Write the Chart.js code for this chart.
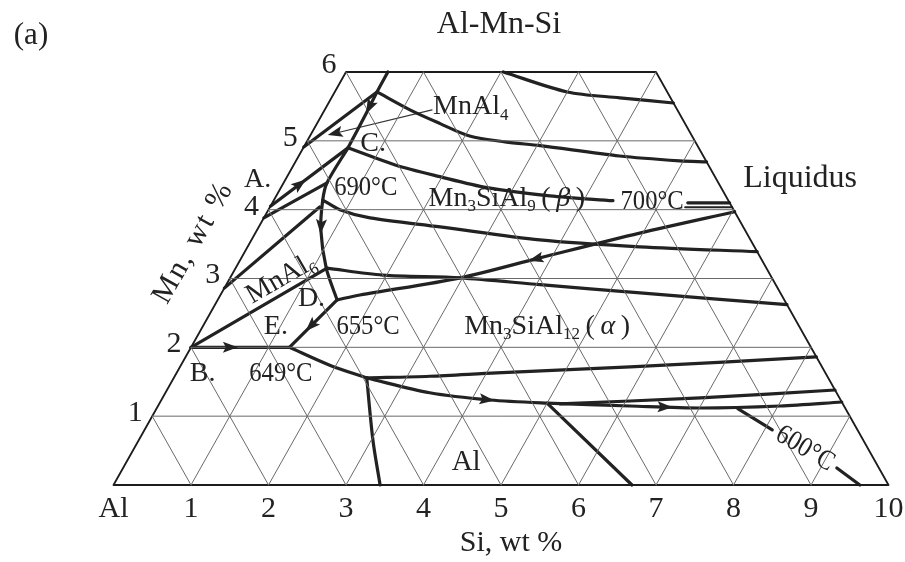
<!DOCTYPE html>
<html>
<head>
<meta charset="utf-8">
<script src="https://cdn.jsdelivr.net/npm/chart.js@4.4.1/dist/chart.umd.min.js"></script>
<style>
  html, body { margin: 0; padding: 0; background: #fff; }
  canvas { display: block; }
</style>
</head>
<body>
<canvas id="c" width="905" height="562"></canvas>
<script>
// Al corner of the Al-Mn-Si system. Every point is [Si wt%, Mn wt%]; Al is the balance.
const siTicks = [1, 2, 3, 4, 5, 6, 7, 8, 9, 10];
const mnTicks = [1, 2, 3, 4, 5, 6];
const gridMn = [1, 2, 3, 4, 5];            // lines of constant Mn
const gridSi = [1, 2, 3, 4, 5, 6, 7, 8, 9]; // lines of constant Si
const gridSum = [1, 2, 3, 4, 5, 6, 7, 8, 9]; // lines of constant Si+Mn (constant Al)
const mnMax = 6, sumMax = 10;

const outline = [[0, 0], [10, 0], [4, 6], [0, 6], [0, 0]];

// liquidus isotherms
const iso800 = [[2.03, 6.0], [3.0, 5.71], [3.72, 5.625], [4.45, 5.55]];
const iso750a = [[0, 4.91], [0.545, 5.71]];
const iso750b = [[0.545, 5.71], [1.10, 5.45], [1.59, 5.25], [2.06, 5.07], [2.56, 4.985], [3.04, 4.93], [4.14, 4.78], [4.95, 4.71], [5.305, 4.695]];
const iso700 = [[0.577, 4.898], [1.31, 4.65], [1.97, 4.48], [2.66, 4.32], [3.53, 4.20], [4.38, 4.13]];
const iso700r = [[5.36, 4.10], [5.90, 4.10]];
const iso700r2 = [[5.36, 4.035], [5.965, 4.035]];
const iso690a = [[0, 3.88], [0.56, 4.39]];
const iso690b = [[0.63, 4.14], [0.92, 4.0], [1.37, 3.88], [2.34, 3.75], [3.72, 3.56], [5.06, 3.46], [6.61, 3.39]];
const isoL3 = [[0, 2.86], [0.64, 4.04]];
const isoB = [[0, 2.0], [1.18, 3.15]];
const isoMid = [[1.18, 3.15], [1.95, 3.05], [2.97, 3.01], [4.05, 2.91], [5.40, 2.79], [7.38, 2.62]];
const iso600a = [[7.50, 1.11], [8.10, 0.80]];
const iso600b = [[9.21, 0.247], [9.63, 0]];

// phase boundaries (monovariant lines)
const bTopC = [[0.54, 6.0], [0.545, 5.71], [0.56, 5.42], [0.577, 4.898]];
const bAC = [[0, 4.05], [0.577, 4.898]];
const bCD = [[0.577, 4.898], [0.56, 4.39], [0.63, 4.14], [0.82, 3.71], [1.17, 3.15], [1.54, 2.69]];
const bDR = [[1.54, 2.69], [1.80, 2.76], [2.97, 3.01], [3.85, 3.30], [4.96, 3.66], [6.03, 3.97]];
const bBE = [[0, 2.0], [1.27, 2.0]];
const bDE = [[1.54, 2.69], [1.27, 2.0]];
const bEJ = [[1.27, 2.0], [1.92, 1.74], [2.49, 1.555]];
const bJdown = [[2.49, 1.555], [3.02, 0.654], [3.44, 0]];
const bJup = [[2.49, 1.555], [3.29, 1.58], [4.13, 1.63], [5.81, 1.715], [8.14, 1.86]];
const bJlow = [[2.49, 1.555], [3.41, 1.34], [4.24, 1.235], [5.0, 1.19], [6.09, 1.148], [7.01, 1.119], [8.03, 1.148], [8.794, 1.206]];
const bMid = [[5.17, 1.18], [6.94, 1.265], [8.62, 1.38]];
const bSi = [[5.0, 1.19], [6.69, 0]];
const leader4 = [[1.385, 5.45], [0.27, 5.10]];

// arrowheads: on segment `seg` of a line, at fraction f, dir +1 along the data order
const arrows = [
  { line: bAC, seg: 0, f: 0.38, dir: 1 },
  { line: bTopC, seg: 1, f: 0.75, dir: 1 },
  { line: bCD, seg: 2, f: 0.9, dir: 1 },
  { line: bBE, seg: 0, f: 0.4, dir: 1 },
  { line: bDE, seg: 0, f: 0.55, dir: 1 },
  { line: bDR, seg: 2, f: 0.95, dir: -1 },
  { line: bJlow, seg: 1, f: 0.95, dir: 1 },
  { line: bJlow, seg: 4, f: 0.5, dir: 1 },
  { line: leader4, seg: 0, f: 0.97, dir: 1 }
];

// text inside the diagram: parts are [text, style] with style '' normal, 's' subscript, 'i' italic
const THIN = '\u2009';
const labels = [
  { parts: [['MnAl', ''], ['4', 's']], at: [1.85, 5.52], size: 28, rot: 0 },
  { parts: [['C.', '']], at: [0.86, 4.98], size: 28, rot: 0 },
  { parts: [['A.', '']], at: [-0.37, 4.46], size: 28, rot: 0 },
  { parts: [['690°C', '']], at: [1.08, 4.35], size: 28, rot: 0, sx: 0.88 },
  { parts: [['Mn', ''], ['3', 's'], ['SiAl', ''], ['9', 's'], [THIN + '(' + THIN, ''], ['β', 'i'], [THIN + ')', '']], at: [2.98, 4.19], size: 28, rot: 0 },
  { parts: [['700°C', '']], at: [4.88, 4.14], size: 28, rot: 0, sx: 0.88 },
  { parts: [['Liquidus', '']], at: [6.62, 4.48], size: 32, rot: 0 },
  { parts: [['MnAl', ''], ['6', 's']], at: [0.64, 3.02], size: 28, rot: -30 },
  { parts: [['D.', '']], at: [1.19, 2.73], size: 28, rot: 0 },
  { parts: [['E.', '']], at: [0.93, 2.33], size: 28, rot: 0 },
  { parts: [['655°C', '']], at: [2.12, 2.33], size: 28, rot: 0, sx: 0.88 },
  { parts: [['Mn', ''], ['3', 's'], ['SiAl', ''], ['12', 's'], [THIN + '(' + THIN, ''], ['α', 'i'], [THIN + ')', '']], at: [4.43, 2.33], size: 28, rot: 0 },
  { parts: [['B.', '']], at: [0.33, 1.64], size: 28, rot: 0 },
  { parts: [['649°C', '']], at: [1.34, 1.64], size: 28, rot: 0, sx: 0.88 },
  { parts: [['Al', '']], at: [4.37, 0.36], size: 29, rot: 0 },
  { parts: [['600°C', '']], at: [8.66, 0.55], size: 28, rot: 31, sx: 0.88 }
];

const INK = '#222';
const GRID = '#6a6a6a';
const FAMILY = '"Liberation Serif", "DejaVu Serif", serif';

// ternary composition -> plane coordinates (x along the base, y = Mn)
const toXY = ([si, mn]) => ({ x: si + mn / 2, y: mn });

function lineSet(pts, width, color, tension) {
  return {
    data: pts.map(toXY),
    showLine: true,
    borderColor: color,
    borderWidth: width,
    tension: tension,
    pointRadius: 0,
    pointHoverRadius: 0,
    fill: false,
    clip: false,
    borderCapStyle: 'round',
    borderJoinStyle: 'round'
  };
}

const datasets = [];
gridMn.forEach(m => datasets.push(lineSet([[0, m], [sumMax - m, m]], 1, GRID, 0)));
gridSi.forEach(s => datasets.push(lineSet([[s, 0], [s, Math.min(mnMax, sumMax - s)]], 1, GRID, 0)));
gridSum.forEach(c => datasets.push(lineSet(c <= mnMax ? [[c, 0], [0, c]] : [[c, 0], [c - mnMax, mnMax]], 1, GRID, 0)));
datasets.push(lineSet(outline, 1.8, '#1c1c1c', 0));

const thick = [iso800, iso750a, iso750b, iso700, iso700r, iso690a, iso690b, isoL3, isoB, isoMid,
  iso600a, iso600b, bTopC, bAC, bCD, bDR, bBE, bDE, bEJ, bJdown, bJup, bJlow, bMid, bSi];
thick.forEach(l => datasets.push(lineSet(l, 3.2, INK, l.length > 2 ? 0.3 : 0)));
datasets.push(lineSet(iso700r2, 2.2, INK, 0));
datasets.push(lineSet(leader4, 1.1, '#333', 0));

function fontFor(style, size) {
  if (style === 's') return `${Math.round(size * 0.6)}px ${FAMILY}`;
  if (style === 'i') return `italic ${size}px ${FAMILY}`;
  return `${size}px ${FAMILY}`;
}

function drawRich(ctx, parts, x, y, size, rot, sx) {
  ctx.save();
  ctx.translate(x, y);
  ctx.rotate((rot || 0) * Math.PI / 180);
  ctx.scale(sx || 1, 1);
  ctx.textAlign = 'left';
  ctx.textBaseline = 'alphabetic';
  let w = 0;
  parts.forEach(([t, s]) => { ctx.font = fontFor(s, size); w += ctx.measureText(t).width; });
  let cx = -w / 2;
  const base = size * 0.33;
  parts.forEach(([t, s]) => {
    ctx.font = fontFor(s, size);
    ctx.fillText(t, cx, base + (s === 's' ? size * 0.2 : 0));
    cx += ctx.measureText(t).width;
  });
  ctx.restore();
}

const bgPlugin = {
  id: 'paper',
  beforeDraw(chart) {
    const c = chart.ctx;
    c.save();
    c.fillStyle = '#fff';
    c.fillRect(0, 0, chart.width, chart.height);
    c.restore();
  }
};

const decorPlugin = {
  id: 'decor',
  afterDatasetsDraw(chart) {
    const ctx = chart.ctx, xs = chart.scales.x, ys = chart.scales.y;
    const px = p => { const q = toXY(p); return { x: xs.getPixelForValue(q.x), y: ys.getPixelForValue(q.y) }; };

    // arrowheads
    ctx.save();
    ctx.fillStyle = INK;
    arrows.forEach(a => {
      const p0 = px(a.line[a.seg]), p1 = px(a.line[a.seg + 1]);
      const cx = p0.x + (p1.x - p0.x) * a.f, cy = p0.y + (p1.y - p0.y) * a.f;
      let ang = Math.atan2(p1.y - p0.y, p1.x - p0.x);
      if (a.dir < 0) ang += Math.PI;
      const L = 15, H = 5.5;
      ctx.save();
      ctx.translate(cx, cy);
      ctx.rotate(ang);
      ctx.beginPath();
      ctx.moveTo(L / 2, 0);
      ctx.lineTo(-L / 2, -H);
      ctx.lineTo(-L / 2 + 3, 0);
      ctx.lineTo(-L / 2, H);
      ctx.closePath();
      ctx.fill();
      ctx.restore();
    });
    ctx.restore();

    // labels in the fields
    ctx.save();
    ctx.fillStyle = INK;
    labels.forEach(l => {
      const p = px(l.at);
      drawRich(ctx, l.parts, p.x, p.y, l.size, l.rot, l.sx);
    });

    // Si ticks along the base
    siTicks.forEach(s => {
      const p = px([s, 0]);
      drawRich(ctx, [[String(s), '']], p.x, p.y + 22, 30, 0, 1);
    });
    const o = px([0, 0]);
    drawRich(ctx, [['Al', '']], o.x, o.y + 22, 30, 0, 1);

    // Mn ticks along the left side
    mnTicks.forEach(m => {
      const p = px([0, m]);
      drawRich(ctx, [[String(m), '']], p.x - 17, p.y - (m === mnMax ? 9 : 5), 30, 0, 1);
    });

    // axis titles
    const b = px([5, 0]);
    drawRich(ctx, [['Si, wt', ''], [' %', '']], b.x + 10, b.y + 56, 30, 0, 1);
    const l0 = px([0, 0]), l1 = px([0, mnMax]);
    const edgeAng = Math.atan2(l1.y - l0.y, l1.x - l0.x) * 180 / Math.PI;
    const lm = px([0, 3.1]);
    ctx.letterSpacing = '2px';
    drawRich(ctx, [['Mn, wt %', '']], lm.x - 42, lm.y - 30, 30, edgeAng, 1);
    ctx.letterSpacing = '0px';

    // headings
    drawRich(ctx, [['Al-Mn-Si', '']], 499, 22, 32, 0, 1);
    drawRich(ctx, [['(a)', '']], 31, 34, 31, 0, 1);
    ctx.restore();
  }
};

new Chart(document.getElementById('c'), {
  type: 'scatter',
  data: { datasets },
  options: {
    responsive: false,
    animation: false,
    devicePixelRatio: 1,
    layout: { padding: { left: 113.5, right: 16.5, top: 72, bottom: 77 } },
    scales: {
      x: { type: 'linear', min: 0, max: 10, display: false },
      y: { type: 'linear', min: 0, max: 6, display: false }
    },
    plugins: { legend: { display: false }, tooltip: { enabled: false } },
    events: []
  },
  plugins: [bgPlugin, decorPlugin]
});
</script>
</body>
</html>
